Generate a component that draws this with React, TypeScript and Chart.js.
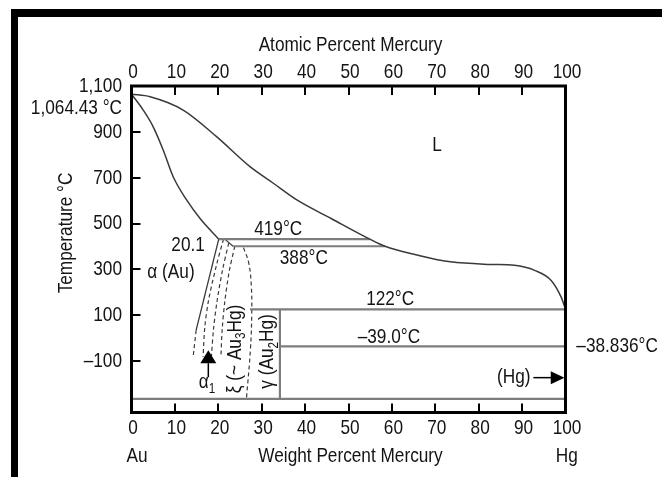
import React, { useEffect, useRef } from 'react';
import { Chart, registerables } from 'chart.js';
Chart.register(...registerables);

const FONT = '"Liberation Sans", Arial, Helvetica, sans-serif';
const SX = 0.82; // horizontal condensing (narrow face)
const TEXT = '#141414';

// ---- axis ticks ----
const weightTicks = [0, 10, 20, 30, 40, 50, 60, 70, 80, 90, 100];
const atomicTicks = [0, 10, 20, 30, 40, 50, 60, 70, 80, 90, 100];
const tempTicks = [1100, 900, 700, 500, 300, 100, -100];

// ---- phase boundaries (x = wt% Hg, T = °C) ----
const liquidusX = [0, 4.3, 11.9, 19.6, 27.3, 32.6, 38.1, 46, 54.9, 58.4, 65.8, 73.5, 82.8, 88.2, 92.9, 96.7, 99, 100];
const liquidusT = [1064.43, 1053, 995, 879, 748, 677, 603, 522, 432, 401, 363, 333, 322, 318, 296, 252, 179, 126];

const solidusX = [0, 2.7, 5.0, 7.3, 9.6, 12.7, 15.8, 20.1];
const solidusT = [1064.43, 995, 922, 821, 704, 603, 522, 432];

const peritectic419X = [20.1, 54.9];
const peritectic419T = [432, 432];
const peritectic388X = [23.4, 58.4];
const peritectic388T = [401, 401];
const linkX = [21.5, 23.4];
const linkT = [432, 401];
const peritectic122X = [27.3, 100];
const peritectic122T = [126, 126];
const eutecticX = [34.2, 100];
const eutecticT = [-36, -36];
const lowLineX = [0, 100];
const lowLineT = [-265, -265];
const gammaX = [34.2, 34.2];
const gammaT = [126, -265];

const alphaSolidX = [20.1, 14.9];
const alphaSolidT = [432, 35];
const alphaDashX = [14.9, 14.2];
const alphaDashT = [35, -81];

const dashAX = [21.2, 19.6, 17.8, 16.9, 16.5];
const dashAT = [432, 320, 170, 50, -81];
const dashBX = [22.4, 21.0, 19.7, 18.9, 18.4];
const dashBT = [415, 300, 160, 40, -81];
const dashCX = [23.8, 22.5, 21.5, 20.9, 20.6];
const dashCT = [401, 290, 160, 40, -81];
const dashDX = [25.8, 27.0, 27.6, 27.7, 27.4, 26.5];
const dashDT = [395, 330, 230, 100, -50, -260];

// ---- annotations (data coordinates) ----
const centerLabels = [
  { t: 'L', x: 70.4, y: 843 },
  { t: '419°C', x: 33.8, y: 476 },
  { t: '388°C', x: 39.7, y: 350 },
  { t: '122°C', x: 59.6, y: 172 },
  { t: '–39.0°C', x: 59.3, y: 5 },
  { t: 'α (Au)', x: 9.1, y: 288 },
  { t: '(Hg)', x: 88.1, y: -172 },
];
const rightLabels = [{ t: '20.1', x: 16.9, y: 406 }];
const leftLabels = [{ t: '–38.836°C', x: 102.5, y: -33 }];

const pts = (xs: number[], ys: number[]) => xs.map((x, i) => ({ x, y: ys[i] }));
const font = (s: number) => `${s}px ${FONT}`;

function txt(ctx: CanvasRenderingContext2D, s: string, x: number, y: number, align: CanvasTextAlign = 'center', size = 21, rot = 0) {
  ctx.save();
  ctx.translate(x, y);
  if (rot) ctx.rotate(rot);
  ctx.scale(SX, 1);
  ctx.font = font(size);
  ctx.textAlign = align;
  ctx.textBaseline = 'middle';
  ctx.fillText(s, 0, 0);
  ctx.restore();
}

function drawRich(ctx: CanvasRenderingContext2D, parts: { t: string; sub?: boolean }[], cx: number, cy: number, size: number, rot: number) {
  ctx.save();
  ctx.translate(cx, cy);
  ctx.rotate(rot);
  ctx.scale(SX, 1);
  ctx.textBaseline = 'middle';
  ctx.textAlign = 'left';
  const ws = parts.map((p) => {
    ctx.font = font(p.sub ? size * 0.68 : size);
    return ctx.measureText(p.t).width;
  });
  const total = ws.reduce((a, b) => a + b, 0);
  let x = -total / 2;
  parts.forEach((p, i) => {
    ctx.font = font(p.sub ? size * 0.68 : size);
    ctx.fillText(p.t, x, p.sub ? size * 0.32 : 0);
    x += ws[i];
  });
  ctx.restore();
}

const fmtTemp = (v: number) => (v < 0 ? '–' + Math.abs(v) : v.toLocaleString('en-US'));

const decor = {
  id: 'decor',
  beforeDraw(chart: any) {
    const ctx = chart.ctx as CanvasRenderingContext2D;
    ctx.save();
    ctx.fillStyle = '#fff';
    ctx.fillRect(0, 0, chart.width, chart.height);
    ctx.fillStyle = '#000';
    ctx.fillRect(11, 9, chart.width - 11, 8);
    ctx.fillRect(11, 9, 7, chart.height - 9);
    ctx.restore();
  },
  afterDraw(chart: any) {
    const ctx = chart.ctx as CanvasRenderingContext2D;
    const a = chart.chartArea;
    const sx = chart.scales.x;
    const sx2 = chart.scales.x2;
    const sy = chart.scales.y;
    const X = (v: number) => sx.getPixelForValue(v);
    const Y = (v: number) => sy.getPixelForValue(v);
    ctx.save();
    // inward ticks
    ctx.strokeStyle = '#000';
    ctx.lineWidth = 2;
    ctx.beginPath();
    sx.ticks.slice(1, -1).forEach((t: any) => {
      const px = Math.round(sx.getPixelForValue(t.value));
      ctx.moveTo(px, a.bottom);
      ctx.lineTo(px, a.bottom - 9);
    });
    sx2.ticks.slice(1, -1).forEach((t: any) => {
      const px = Math.round(sx2.getPixelForValue(t.value));
      ctx.moveTo(px, a.top);
      ctx.lineTo(px, a.top + 9);
    });
    sy.ticks.slice(1).forEach((t: any) => {
      const py = Math.round(sy.getPixelForValue(t.value));
      ctx.moveTo(a.left, py);
      ctx.lineTo(a.left + 9, py);
    });
    ctx.stroke();
    // plot frame
    ctx.lineWidth = 3;
    ctx.strokeRect(a.left, a.top, a.right - a.left, a.bottom - a.top);

    // arrows
    ctx.fillStyle = '#000';
    ctx.lineWidth = 1.5;
    const ax = X(17.7);
    ctx.beginPath();
    ctx.moveTo(ax, Y(-52));
    ctx.lineTo(ax - 8, Y(-109));
    ctx.lineTo(ax + 8, Y(-109));
    ctx.closePath();
    ctx.fill();
    ctx.beginPath();
    ctx.moveTo(ax, Y(-109));
    ctx.lineTo(ax, Y(-170));
    ctx.stroke();
    const hy = Y(-172);
    ctx.beginPath();
    ctx.moveTo(X(92.6), hy);
    ctx.lineTo(X(96.8), hy);
    ctx.stroke();
    ctx.beginPath();
    ctx.moveTo(X(100) - 1, hy);
    ctx.lineTo(X(96.6), hy - 6.5);
    ctx.lineTo(X(96.6), hy + 6.5);
    ctx.closePath();
    ctx.fill();

    // tick labels
    ctx.fillStyle = TEXT;
    sx.ticks.forEach((t: any) => txt(ctx, String(t.value), sx.getPixelForValue(t.value) + 1.5, 428));
    sx2.ticks.forEach((t: any) => txt(ctx, String(t.value), sx2.getPixelForValue(t.value) + 1.5, 72.5));
    sy.ticks.forEach((t: any) => txt(ctx, fmtTemp(t.value), a.left - 9.5, sy.getPixelForValue(t.value), 'right'));

    // axis titles
    txt(ctx, 'Atomic Percent Mercury', (a.left + a.right) / 2 + 2, 45);
    txt(ctx, 'Weight Percent Mercury', (a.left + a.right) / 2 + 2, 456);
    txt(ctx, 'Au', X(1.3), 456);
    txt(ctx, 'Hg', X(100.3), 456);
    txt(ctx, 'Temperature °C', a.left - 65, Y(459), 'center', 21, -Math.PI / 2);
    txt(ctx, '1,064.43 °C', a.left - 9.5, Y(1005), 'right');

    // in-plot annotations
    centerLabels.forEach((l) => txt(ctx, l.t, X(l.x), Y(l.y)));
    rightLabels.forEach((l) => txt(ctx, l.t, X(l.x), Y(l.y), 'right'));
    leftLabels.forEach((l) => txt(ctx, l.t, X(l.x), Y(l.y), 'left'));

    drawRich(ctx, [{ t: 'α' }, { t: '1', sub: true }], X(17.4), Y(-191), 21, 0);
    drawRich(ctx, [{ t: 'ξ (~ Au' }, { t: '3', sub: true }, { t: 'Hg)' }], X(23.8), Y(-47), 21, -Math.PI / 2);
    drawRich(ctx, [{ t: 'γ (Au' }, { t: '2', sub: true }, { t: 'Hg)' }], X(31.3), Y(-58), 21, -Math.PI / 2);
    ctx.restore();
  },
};

const CURVE = '#3a3a3a';
const GRAYLINE = '#7d7d7d';

function ds(xs: number[], ys: number[], color: string, width: number, dash: number[] = [], tension = 0, mono = false) {
  return {
    data: pts(xs, ys),
    showLine: true,
    borderColor: color,
    borderWidth: width,
    borderDash: dash,
    pointRadius: 0,
    fill: false,
    tension,
    cubicInterpolationMode: mono ? 'monotone' : 'default',
    xAxisID: 'x',
    yAxisID: 'y',
  };
}

export default function App() {
  const ref = useRef<HTMLCanvasElement>(null);
  useEffect(() => {
    const canvas = ref.current!;
    const hidden = { display: false };
    const chart = new Chart(canvas, {
      type: 'scatter',
      data: {
        datasets: [
          ds(liquidusX, liquidusT, CURVE, 1.5, [], 0, true),
          ds(solidusX, solidusT, CURVE, 1.5, [], 0, true),
          ds(peritectic419X, peritectic419T, GRAYLINE, 2.2),
          ds(peritectic388X, peritectic388T, GRAYLINE, 2.2),
          ds(linkX, linkT, CURVE, 1.2),
          ds(peritectic122X, peritectic122T, GRAYLINE, 2.2),
          ds(eutecticX, eutecticT, GRAYLINE, 2.2),
          ds(lowLineX, lowLineT, GRAYLINE, 2.2),
          ds(gammaX, gammaT, GRAYLINE, 2.2),
          ds(alphaSolidX, alphaSolidT, CURVE, 1.3),
          ds(alphaDashX, alphaDashT, CURVE, 1.2, [4, 3]),
          ds(dashAX, dashAT, CURVE, 1.2, [4, 3], 0.3),
          ds(dashBX, dashBT, CURVE, 1.2, [4, 3], 0.3),
          ds(dashCX, dashCT, CURVE, 1.2, [4, 3], 0.3),
          ds(dashDX, dashDT, CURVE, 1.2, [4, 3], 0.4),
        ] as any,
      },
      options: {
        responsive: false,
        devicePixelRatio: 1,
        animation: false,
        events: [],
        layout: { padding: { left: 0, right: 96.5, top: 0, bottom: 0 } },
        plugins: { legend: { display: false }, tooltip: { enabled: false } },
        scales: {
          x: {
            type: 'linear',
            position: 'bottom',
            min: 0,
            max: 100,
            afterBuildTicks: (s: any) => { s.ticks = weightTicks.map((v) => ({ value: v })); },
            afterFit: (s: any) => { s.height = 64.5; },
            ticks: hidden,
            grid: { display: false, drawTicks: false },
            border: { display: false },
          },
          x2: {
            type: 'linear',
            position: 'top',
            min: 0,
            max: 100,
            afterBuildTicks: (s: any) => { s.ticks = atomicTicks.map((v) => ({ value: v })); },
            afterFit: (s: any) => { s.height = 86; },
            ticks: hidden,
            grid: { display: false, drawTicks: false },
            border: { display: false },
          },
          y: {
            type: 'linear',
            position: 'left',
            min: -324,
            max: 1100,
            afterBuildTicks: (s: any) => { s.ticks = tempTicks.map((v) => ({ value: v })); },
            afterFit: (s: any) => { s.width = 131.5; },
            ticks: hidden,
            grid: { display: false, drawTicks: false },
            border: { display: false },
          },
        },
      } as any,
      plugins: [decor],
    });
    return () => chart.destroy();
  }, []);
  return (
    <div style={{ position: 'fixed', left: 0, top: 0, width: 662, height: 477, background: '#fff' }}>
      <canvas ref={ref} width={662} height={477} style={{ display: 'block', width: 662, height: 477 }} />
    </div>
  );
}
